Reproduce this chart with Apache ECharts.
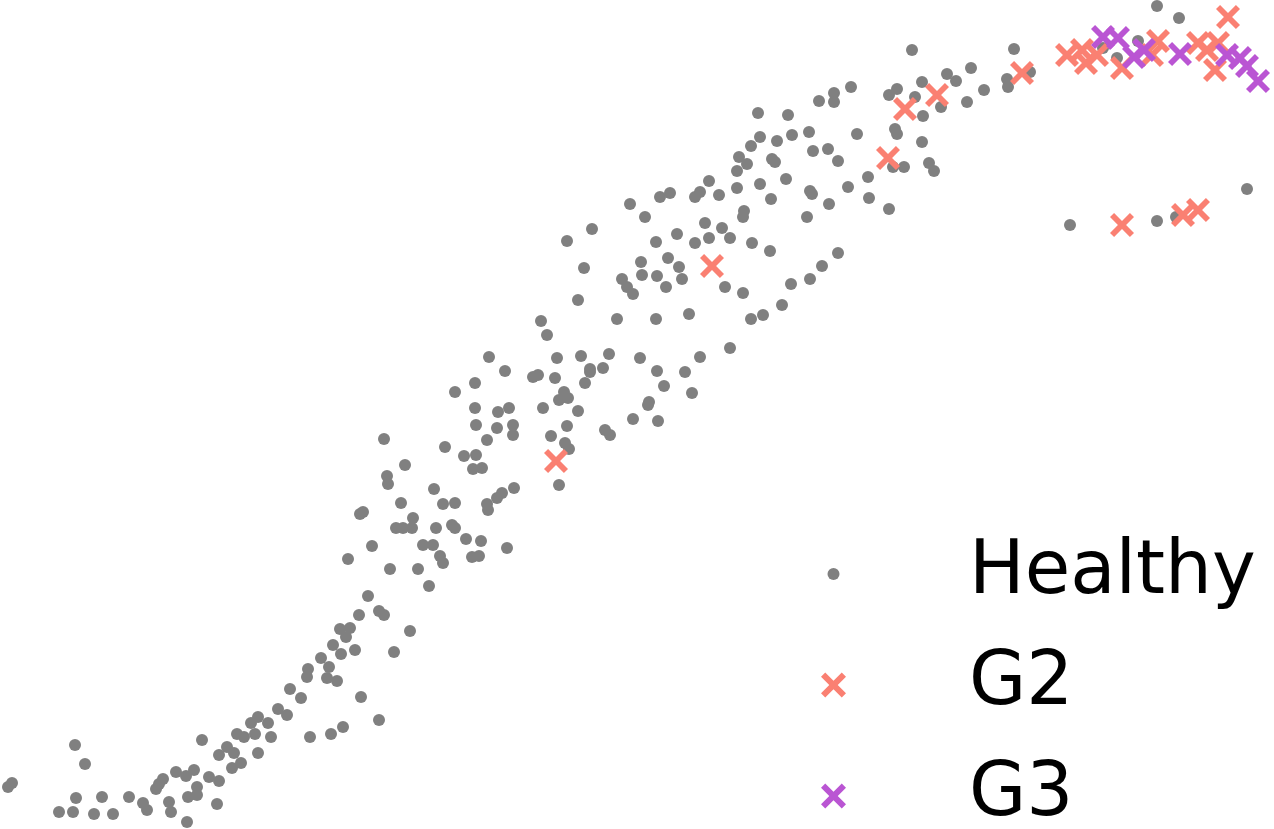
<!DOCTYPE html>
<html>
<head>
<meta charset="utf-8">
<script src="https://cdn.jsdelivr.net/npm/echarts@6/dist/echarts.min.js"></script>
<style>
  html, body { margin: 0; padding: 0; background: #fff; }
  #chart { width: 1274px; height: 829px; }
</style>
</head>
<body>
<div id="chart"></div>
<script>
// embedding coordinates (x right, y down)
const healthy = [
  [8,787],[12,783],[75,745],[85,764],[76,798],[59,812],[73,812],[94,814],[102,797],[113,814],
  [129,797],[143,803],[147,810],[156,789],[159,784],[163,779],[169,802],[171,812],[176,772],[186,776],
  [194,770],[187,822],[188,797],[197,787],[197,795],[202,740],[209,777],[217,804],[219,781],[219,755],
  [227,747],[234,753],[232,768],[241,763],[237,734],[244,737],[255,734],[251,723],[258,717],[258,753],
  [268,723],[271,737],[278,709],[287,715],[290,689],[301,698],[310,737],[331,734],[343,727],[308,669],
  [307,677],[321,658],[329,667],[327,678],[337,681],[333,645],[341,654],[340,629],[350,628],[346,637],
  [355,650],[359,615],[361,697],[348,559],
  [394,652],[410,631],[379,720],[368,596],[379,611],[384,615],[390,569],[418,569],[429,586],[372,546],
  [423,545],[433,545],[440,556],[443,563],[472,557],[479,556],[507,548],[466,539],[481,541],[396,528],
  [403,528],[412,528],[436,528],[452,525],[455,528],[413,518],[363,512],[360,514],[401,503],[443,504],
  [455,503],[487,504],[488,510],[502,493],[497,498],[514,488],[434,489],[387,476],[388,484],[405,465],
  [473,469],[482,468],[464,456],[476,455],[445,447],[384,439],[487,440],[476,425],[497,428],[513,425],
  [513,435],[475,408],[498,412],[509,408],[455,392],[475,383],[505,371],[533,377],[538,375],[555,378],
  [590,372],[585,383],[564,392],[559,400],[568,398],[543,408],[578,411],[567,426],[551,436],[565,443],
  [569,449],[559,485],[489,357],
  [660,197],[630,204],[645,217],[592,229],[567,241],[656,242],[641,262],[584,268],[642,275],[657,276],
  [622,279],[627,287],[633,294],[578,300],[617,319],[656,319],[541,321],[547,335],[557,358],[581,356],
  [609,354],[640,358],[590,369],[603,368],[657,371],[668,258],[679,267],[682,279],[666,287],[770,251],
  [725,287],[743,293],[791,284],[782,305],[763,315],[751,319],[689,314],[730,348],[700,357],[685,372],
  [664,386],[692,393],[649,402],[648,405],[633,419],[658,421],[605,430],[610,435],
  [758,113],[760,137],[777,141],[751,146],[739,157],[747,164],[772,159],[775,162],[737,171],[709,181],
  [760,184],[737,188],[670,193],[695,197],[700,192],[719,195],[771,199],[744,211],[743,217],[705,223],
  [722,228],[677,234],[695,243],[709,238],[730,238],[752,243],
  [912,50],[947,74],[956,81],[922,82],[897,89],[889,95],[915,97],[851,87],[834,93],[834,102],
  [819,101],[941,107],[923,116],[788,115],[895,129],[897,134],[857,134],[809,132],[792,135],[922,142],
  [813,151],[828,149],[838,161],[893,167],[904,167],[929,163],[934,171],[786,179],[868,177],[848,187],
  [810,191],[812,194],[869,198],[829,204],[889,209],[807,217],[838,253],[822,266],[810,279],
  [1014,49],[971,68],[967,102],[984,90],[1007,79],[1008,87],[1030,72],[1103,48],[1117,58],[1138,41],
  [1157,6],[1179,18],[1070,225],[1157,221],[1176,217],[1247,189]
]

const g2 = [
  [556,461],[712,266],[888,158],[905,109],[937,95],[1022,73],[1067,55],[1082,50],[1086,63],[1097,55],
  [1122,68],[1158,41],[1152,55],[1198,43],[1207,50],[1218,43],[1215,70],[1228,17],[1122,225],[1183,215],
  [1198,210]
]

const g3 = [
  [1103,37],[1118,38],[1134,57],[1144,50],[1180,54],[1227,55],[1240,58],[1247,66],[1258,81]
]

const seriesNames = ['Healthy', 'G2', 'G3']
const colors = { Healthy: '#808080', G2: '#fa8072', G3: '#ba55d3' }

// filled "X" marker, like matplotlib's
const crossPath = 'path://M0 1.7 L1.7 0 L5 3.3 L8.3 0 L10 1.7 L6.7 5 L10 8.3 L8.3 10 L5 6.7 L1.7 10 L0 8.3 L3.3 5 Z'
// small dot inside a 25x25 box (corner moves keep the box size)
const dotIcon = 'path://M0 0 M25 25 M18.5 12.5 A6 6 0 1 1 6.5 12.5 A6 6 0 1 1 18.5 12.5 Z'

const chart = echarts.init(document.getElementById('chart'))

chart.setOption({
  animation: false,
  backgroundColor: '#fff',
  grid: { left: 0, right: 0, top: 0, bottom: 0 },
  xAxis: { type: 'value', min: 0, max: 1274, show: false },
  yAxis: { type: 'value', min: 0, max: 829, inverse: true, show: false },
  legend: {
    orient: 'vertical',
    left: 821,
    top: 536,
    // explicit height so the last entry does not wrap into a new column
    height: 330,
    padding: 0,
    itemGap: 35,
    itemWidth: 25,
    itemHeight: 25,
    selectedMode: false,
    textStyle: {
      fontFamily: 'DejaVu Sans',
      fontSize: 74,
      lineHeight: 50,
      color: '#000',
      padding: [0, 0, 26, 118],
    },
    data: [
      { name: 'Healthy', icon: dotIcon },
      { name: 'G2', icon: crossPath },
      { name: 'G3', icon: crossPath },
    ],
  },
  series: [
    {
      name: seriesNames[0],
      type: 'scatter',
      data: healthy,
      symbol: 'circle',
      symbolSize: 12,
      itemStyle: { color: colors.Healthy, opacity: 1 },
      z: 2,
    },
    {
      name: seriesNames[1],
      type: 'scatter',
      data: g2,
      symbol: crossPath,
      symbolSize: 24,
      itemStyle: { color: colors.G2, opacity: 1 },
      z: 3,
    },
    {
      name: seriesNames[2],
      type: 'scatter',
      data: g3,
      symbol: crossPath,
      symbolSize: 24,
      itemStyle: { color: colors.G3, opacity: 1 },
      z: 4,
    },
  ],
})
</script>
</body>
</html>
